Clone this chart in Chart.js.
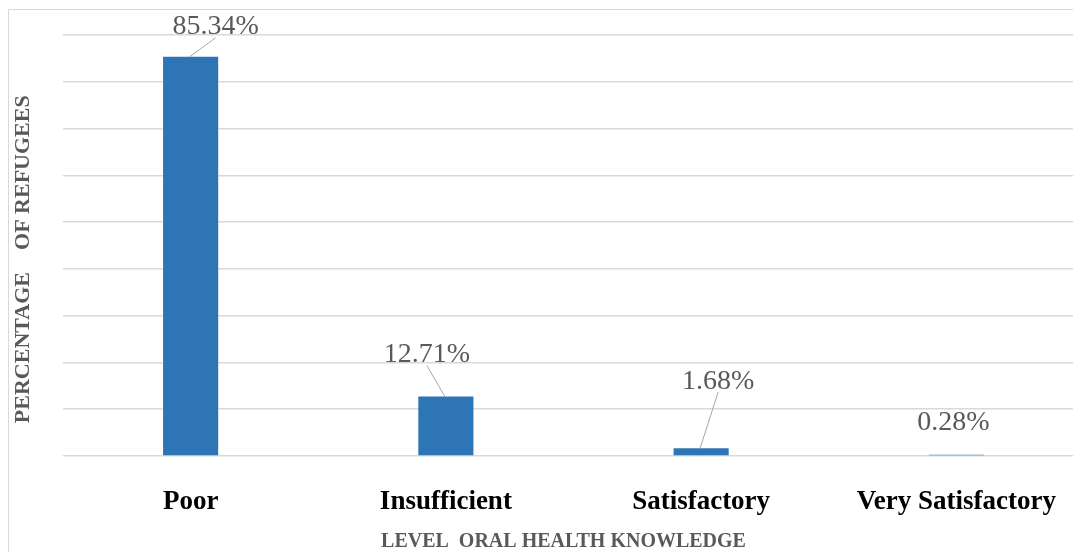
<!DOCTYPE html>
<html>
<head>
<meta charset="utf-8">
<script src="https://cdn.jsdelivr.net/npm/chart.js@4"></script>
<style>
  html, body { margin: 0; padding: 0; background: #fff; overflow: hidden; }
  #frame {
    position: absolute; left: 8px; top: 9px;
    width: 1100px; height: 560px;
    border-left: 1.5px solid #d9d9d9;
    border-top: 1.5px solid #d9d9d9;
  }
  #myChart { position: absolute; left: 0; top: 0; }
</style>
</head>
<body>
<div id="frame"><canvas id="myChart" width="1075" height="542"></canvas></div>
<script>
// data
const levels = ["Poor", "Insufficient", "Satisfactory", "Very Satisfactory"];
const percentages = [85.34, 12.71, 1.68, 0.28];
const valueLabels = ["85.34%", "12.71%", "1.68%", "0.28%"];

// where each label sits relative to the top of its bar (px), and if it gets a leader line
const labelOffsets = [
  { dx: 25, dy: -30, leader: true },
  { dx: -19, dy: -42, leader: true },
  { dx: 17, dy: -67, leader: true },
  { dx: -3, dy: -32, leader: false },
];

const serif = "'Liberation Serif', 'Times New Roman', serif";

const leaderLabels = {
  id: "leaderLabels",
  afterDatasetsDraw(chart) {
    const ctx = chart.ctx;
    const meta = chart.getDatasetMeta(0);
    ctx.save();
    ctx.font = "28px " + serif;
    ctx.textAlign = "center";
    ctx.textBaseline = "middle";
    meta.data.forEach((bar, i) => {
      const off = labelOffsets[i];
      const lx = bar.x + off.dx;
      const ly = bar.y + off.dy;
      if (off.leader) {
        ctx.strokeStyle = "#a6a6a6";
        ctx.lineWidth = 1;
        ctx.beginPath();
        ctx.moveTo(bar.x - 1, bar.y);
        ctx.lineTo(lx, ly + 11);
        ctx.stroke();
      }
      ctx.fillStyle = "#595959";
      ctx.fillText(valueLabels[i], lx, ly);
    });
    ctx.restore();
  },
};

const ctx = document.getElementById("myChart");
let myChart = new Chart(ctx, {
  type: "bar",
  data: {
    labels: levels,
    datasets: [
      {
        label: "Percentage of refugees",
        data: percentages,
        backgroundColor: "#2e75b6",
        borderColor: "#2e75b6",
        borderWidth: 0,
        barPercentage: 0.216,
        categoryPercentage: 1,
      },
    ],
  },
  options: {
    responsive: false,
    devicePixelRatio: 1,
    animation: false,
    layout: { padding: { top: 25, right: 0, left: 0, bottom: 0 } },
    plugins: {
      legend: { display: false },
      tooltip: { enabled: false },
    },
    scales: {
      x: {
        grid: { display: false },
        border: { display: false },
        ticks: {
          color: "#000",
          padding: 22,
          font: { family: serif, size: 27, weight: "bold" },
        },
        title: {
          display: true,
          // trailing spaces nudge the centred title a little to the left, as in the original
          text: "LEVEL  ORAL HEALTH KNOWLEDGE    ",
          color: "#595959",
          font: { family: serif, size: 20, weight: "bold", lineHeight: 1 },
          padding: { top: 0, bottom: 0 },
        },
        afterFit(scale) {
          scale.height = 96;
        },
      },
      y: {
        min: 0,
        max: 90,
        ticks: { display: false, stepSize: 10 },
        grid: { color: "#d9d9d9", lineWidth: 1.5, drawTicks: false },
        border: { display: false },
        title: {
          display: true,
          text: "PERCENTAGE    OF REFUGEES     ",
          color: "#595959",
          font: { family: serif, size: 22, weight: "bold" },
          padding: { top: 1, bottom: 0 },
        },
        afterFit(scale) {
          scale.width = 54;
        },
      },
    },
  },
  plugins: [leaderLabels],
});
</script>
</body>
</html>
